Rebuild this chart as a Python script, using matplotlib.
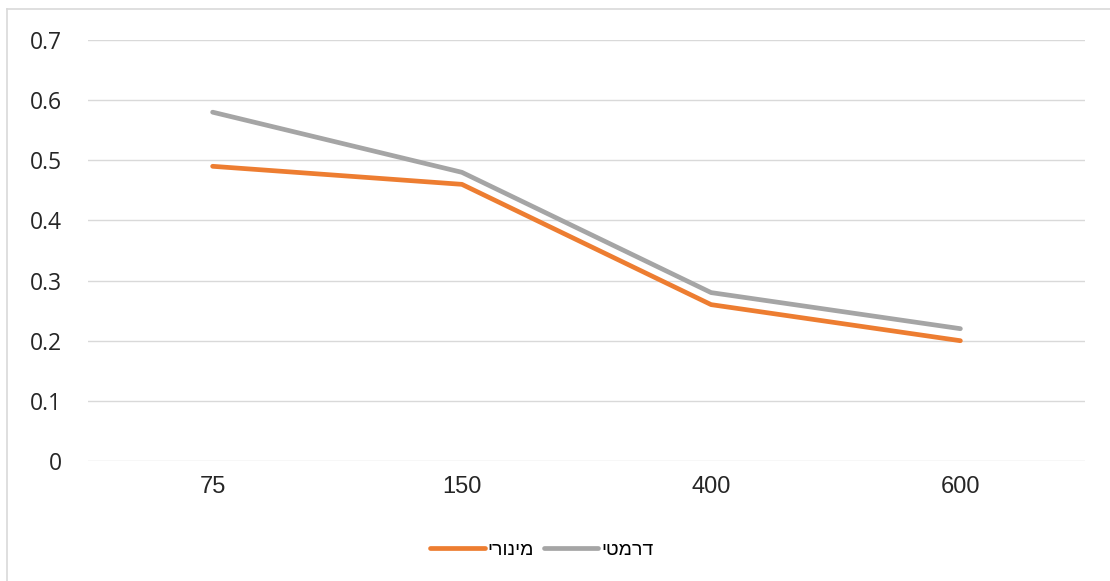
import matplotlib.pyplot as plt
from matplotlib.lines import Line2D

categories = ['75', '150', '400', '600']
minor = [0.49, 0.46, 0.26, 0.20]
dramatic = [0.58, 0.48, 0.28, 0.22]
names = ['מינורי', 'דרמטי']
yticks = [0, 0.1, 0.2, 0.3, 0.4, 0.5, 0.6, 0.7]

W, H = 1110, 581
fig = plt.figure(figsize=(W / 100, H / 100), dpi=100)
ax = fig.add_axes([88 / W, 120 / H, (1085 - 88) / W, (461 - 40) / H])

x = range(len(categories))
# hebrew text: matplotlib has no bidi, so reverse
ax.plot(x, minor, color='#ED7D31', lw=3.4, solid_capstyle='round', label=names[0][::-1])
ax.plot(x, dramatic, color='#A5A5A5', lw=3.4, solid_capstyle='round', label=names[1][::-1])

ax.set_xlim(-0.5, 3.5)
ax.set_ylim(0, 0.7)
ax.set_xticks(list(x))
ax.set_xticklabels(categories, fontsize=17, family='Liberation Sans', color='#262626')
ax.set_yticks(yticks)
ax.set_yticklabels([f'{v:g}' for v in yticks], fontsize=16.5, family=['Open Sans', 'DejaVu Sans'],
                   color='#262626')
ax.tick_params(length=0, pad=19, axis='y')
ax.tick_params(length=0, pad=11, axis='x')
ax.grid(axis='y', color='#D9D9D9', lw=1)
ax.set_axisbelow(True)
for s in ax.spines.values():
    s.set_visible(False)

fig.legend(loc='center', bbox_to_anchor=(542 / W, 1 - 550 / H), ncol=2, frameon=False,
           prop={'family': ['Liberation Sans', 'DejaVu Sans'], 'size': 14},
           handlelength=2.8, handletextpad=0.15, columnspacing=0.5)

# outer chart border
fig.add_artist(Line2D([7 / W, 1], [1 - 9 / H, 1 - 9 / H], color='#D9D9D9', lw=1.2))
fig.add_artist(Line2D([7 / W, 7 / W], [0, 1 - 9 / H], color='#D9D9D9', lw=1.2))

fig.savefig('out.png', dpi=100)
